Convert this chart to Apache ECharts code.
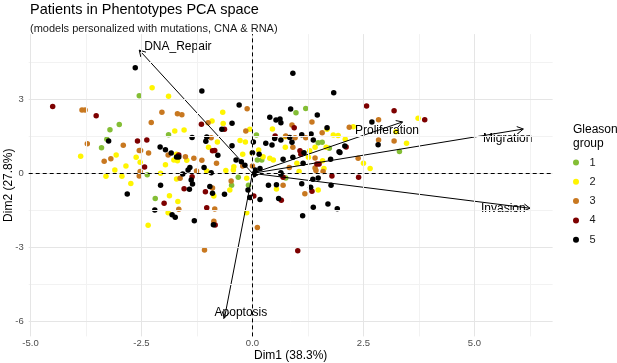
<!DOCTYPE html>
<html>
<head>
<meta charset="utf-8">
<script src="https://cdn.jsdelivr.net/npm/echarts@6/dist/echarts.min.js"></script>
<style>
  html, body { margin: 0; padding: 0; background: #fff; }
  #chart { width: 617px; height: 363px; }
</style>
</head>
<body>
<div id="chart"></div>
<script>
// individual coordinates [Dim1, Dim2] per Gleason group
const group1 = [[-2.55,3.15],[-3.00,1.98],[-3.21,1.77],[-1.89,1.57],[-3.28,1.39],[-3.40,1.04],[-2.37,-0.06],[-2.19,-1.02],[-0.32,-0.16],[-0.47,-0.48],[-0.09,-0.48],[0.75,-0.19],[0.98,2.46],[1.20,2.64],[3.31,0.89],[0.09,1.56],[1.48,1.24],[1.57,1.26],[1.73,1.02],[0.21,0.54],[0.11,0.54]]
const group2 = [[-2.26,3.48],[-1.89,3.13],[-0.67,2.48],[-0.91,2.13],[-0.66,2.03],[-0.06,1.79],[-1.75,1.72],[-1.54,1.76],[-0.79,1.27],[-0.99,1.06],[-0.28,1.33],[-0.16,1.27],[-0.22,0.78],[-3.87,0.69],[-3.07,0.74],[-2.85,0.30],[-2.62,0.65],[-2.53,0.45],[-1.96,0.35],[-3.10,0.13],[-1.71,0.78],[-1.77,0.54],[-1.69,0.51],[-1.48,0.53],[-1.03,0.09],[-0.60,0.11],[-0.43,0.13],[-3.30,-0.12],[-2.94,-0.12],[-2.07,0.00],[-2.74,-0.41],[-1.87,-0.91],[-1.68,-1.15],[-1.90,-1.60],[-2.35,-2.11],[-1.71,-0.23],[-0.87,-0.92],[-0.51,-0.68],[-0.13,-0.20],[-0.13,-1.60],[1.05,0.07],[0.54,-0.64],[1.48,-0.68],[3.73,2.24],[3.23,1.69],[3.47,1.22],[0.45,1.80],[1.68,1.79],[1.82,1.56],[1.93,1.54],[2.09,1.39],[1.41,1.06],[1.66,1.06],[0.74,1.06],[1.29,0.92],[1.26,0.65],[1.58,0.51],[2.50,0.41],[2.65,0.20],[1.61,0.20],[0.47,0.54],[0.39,0.61],[0.24,0.67],[0.14,0.95],[1.00,0.41],[-0.01,0.83],[-0.42,0.27],[0.74,1.49],[2.27,1.89]]
const group3 = [[-3.84,2.57],[-3.77,2.57],[-2.04,2.48],[-1.69,2.42],[-1.59,2.38],[-2.28,2.07],[-0.12,2.63],[-1.00,2.06],[-0.15,1.72],[-3.72,1.20],[-2.91,1.14],[-2.55,0.93],[-2.52,0.93],[-2.34,0.83],[-1.90,0.74],[-1.51,0.67],[-1.32,0.61],[-1.14,0.53],[-0.81,0.41],[-0.22,0.30],[-3.34,0.49],[-3.19,0.59],[-2.53,0.07],[-2.55,-0.11],[-1.26,0.09],[-1.63,-0.20],[-1.66,-1.46],[-0.90,-0.60],[-0.85,-1.45],[-0.87,-1.95],[-1.08,-3.12],[-0.48,-0.31],[0.69,-0.49],[1.43,0.11],[1.59,0.07],[1.18,-0.83],[0.11,-2.20],[2.38,0.61],[1.34,2.09],[2.84,2.18],[2.84,1.35],[3.19,1.31],[2.18,1.87],[0.89,1.96],[0.75,1.52],[0.96,1.45],[1.20,1.45],[1.57,1.65],[0.91,1.06],[1.41,0.62],[1.41,0.22],[0.83,0.24],[0.00,0.30],[-0.93,1.45]]
const group4 = [[-4.50,2.72],[-3.52,2.34],[-1.15,1.99],[-0.63,1.79],[-2.59,1.31],[-2.38,1.35],[-1.66,0.74],[-0.90,0.92],[-0.85,0.93],[-2.43,0.26],[-1.36,-0.14],[-1.54,-0.63],[-1.99,-1.22],[-1.06,-0.75],[-1.03,-1.40],[-0.84,-2.10],[0.03,-0.92],[0.69,-0.16],[1.79,-0.11],[2.39,-0.16],[1.34,-0.73],[0.65,-1.09],[1.02,-3.15],[2.57,2.74],[3.19,2.54],[3.88,2.18],[0.94,1.85],[1.07,0.92],[1.09,0.78],[2.11,1.07],[1.45,0.38],[1.50,0.38],[-0.04,-0.98],[0.51,1.52]]
const group5 = [[-2.64,4.29],[-1.14,3.35],[-0.30,2.78],[-0.46,2.04],[-0.69,1.79],[-1.36,1.46],[-1.03,1.48],[-1.05,1.30],[-3.24,1.31],[-2.08,1.07],[-1.96,0.96],[-1.83,0.83],[-1.71,0.66],[-1.66,0.66],[-0.78,0.73],[-0.46,1.12],[-0.37,0.54],[-0.25,0.47],[-0.17,0.33],[-1.45,0.13],[-1.41,0.24],[-1.09,0.24],[-2.82,-0.84],[-2.07,-0.48],[-2.20,-1.49],[-1.81,-1.68],[-1.74,-1.79],[-1.31,-1.93],[-1.57,-0.03],[-1.38,-0.27],[-1.35,-0.43],[-1.42,-0.65],[-0.93,0.02],[-0.96,-0.54],[-0.90,-0.81],[-0.63,-0.85],[-0.88,-2.09],[-0.10,-0.68],[-0.06,-0.98],[0.03,-0.06],[0.08,0.00],[0.64,-0.03],[1.36,-0.24],[1.48,-0.19],[0.36,-0.49],[0.54,-0.46],[1.11,-0.42],[1.31,-0.57],[1.77,-0.49],[0.17,-1.06],[0.59,-1.02],[1.70,-1.25],[1.37,-1.38],[1.91,-1.44],[1.13,-1.72],[0.91,4.07],[1.83,3.28],[0.86,2.61],[1.46,2.37],[0.39,2.28],[0.53,2.17],[0.62,2.21],[0.64,2.06],[2.69,2.09],[2.83,1.16],[0.50,1.42],[0.64,1.35],[0.30,1.22],[0.44,1.15],[0.02,1.27],[0.00,0.84],[0.84,1.46],[0.89,1.26],[1.11,1.57],[1.32,1.60],[1.37,1.35],[1.68,1.85],[1.95,0.88],[2.08,1.11],[1.16,0.84],[1.76,0.57],[1.14,0.41],[0.64,0.02],[0.15,0.78],[0.06,0.13],[0.17,0.20],[0.91,0.65],[0.69,0.57],[1.97,0.85]]

const groupNames = ['1', '2', '3', '4', '5']
const groupColors = ['#84BE35', '#FFF500', '#C87820', '#7D0000', '#000000']

// variable arrows (end points) and where their names sit
const varNames = ['DNA_Repair', 'Proliferation', 'Migration', 'Invasion', 'Apoptosis']
const varArrows = [[-2.55, 5.01], [3.38, 2.09], [6.10, 1.80], [6.25, -1.42], [-0.63, -5.88]]
const varLabels = [[-1.68, 5.16], [3.03, 1.72], [5.75, 1.42], [5.65, -1.45], [-0.26, -5.65]]

const xTicks = [-5, -2.5, 0, 2.5, 5]
const xMinor = [-3.75, -1.25, 1.25, 3.75, 6.25]
const yTicks = [-6, -3, 0, 3]
const yMinor = [-4.5, -1.5, 1.5, 4.5]

const font = 'Liberation Sans, Arial, sans-serif'

let myChart = echarts.init(document.getElementById('chart'))

// grid lines + dashed zero lines
const gridMark = []
xMinor.forEach(v => gridMark.push({ xAxis: v, lineStyle: { color: '#F2F2F2', width: 1, type: 'solid' } }))
yMinor.forEach(v => gridMark.push({ yAxis: v, lineStyle: { color: '#F2F2F2', width: 1, type: 'solid' } }))
xTicks.forEach(v => gridMark.push({ xAxis: v, lineStyle: { color: '#E5E5E5', width: 1, type: 'solid' } }))
yTicks.forEach(v => gridMark.push({ yAxis: v, lineStyle: { color: '#E5E5E5', width: 1, type: 'solid' } }))
const zeroMark = [
  { xAxis: 0, lineStyle: { color: '#000', width: 1, type: [4, 3] } },
  { yAxis: 0, lineStyle: { color: '#000', width: 1, type: [4, 3] } },
]

function renderArrow(params, api) {
  const s = api.coord([0, 0])
  const e = api.coord([api.value(0), api.value(1)])
  const ang = Math.atan2(e[1] - s[1], e[0] - s[0])
  const len = 7, spread = Math.PI / 6
  const h1 = [e[0] - len * Math.cos(ang - spread), e[1] - len * Math.sin(ang - spread)]
  const h2 = [e[0] - len * Math.cos(ang + spread), e[1] - len * Math.sin(ang + spread)]
  return {
    type: 'group',
    children: [
      { type: 'line', shape: { x1: s[0], y1: s[1], x2: e[0], y2: e[1] }, style: { stroke: '#000', lineWidth: 1 } },
      { type: 'polyline', shape: { points: [h1, e, h2] }, style: { stroke: '#000', fill: null, lineWidth: 1 } },
    ],
  }
}

function renderLabel(params, api) {
  const p = api.coord([api.value(0), api.value(1)])
  return {
    type: 'text', x: p[0], y: p[1],
    style: { text: varNames[params.dataIndex], fill: '#000', font: '12px ' + font, align: 'center', verticalAlign: 'middle' },
  }
}

const groups = [group1, group2, group3, group4, group5]

const option = {
  animation: false,
  textStyle: { fontFamily: font },
  title: [
    {
      text: 'Patients in Phentotypes PCA space',
      subtext: '(models personalized with mutations, CNA & RNA)',
      left: 30, top: 2, padding: 0, itemGap: 6,
      textStyle: { fontSize: 14.5, fontWeight: 'normal', color: '#000', fontFamily: font },
      subtextStyle: { fontSize: 11, color: '#1a1a1a', fontFamily: font },
    },
    {
      text: 'Gleason\ngroup',
      left: 573, top: 123, padding: 0,
      textStyle: { fontSize: 12, fontWeight: 'normal', color: '#000', lineHeight: 14, fontFamily: font },
    },
  ],
  legend: {
    orient: 'vertical',
    left: 573, top: 157, padding: 0,
    itemWidth: 17, itemHeight: 6, itemGap: 8.3,
    icon: 'circle',
    textStyle: { fontSize: 11, color: '#1a1a1a', fontFamily: font },
    data: groupNames,
  },
  grid: { left: 28.7, right: 64.4, top: 34.1, bottom: 26.6, outerBoundsMode: 'none', containLabel: false },
  xAxis: {
    type: 'value', min: -5.04, max: 6.76,
    name: 'Dim1 (38.3%)', nameLocation: 'middle', nameGap: 13, nameMoveOverlap: false,
    nameTextStyle: { fontSize: 12, color: '#000', fontFamily: font },
    axisLine: { show: false },
    splitLine: { show: false },
    axisTick: { show: true, length: 3, lineStyle: { color: '#333' }, customValues: xTicks },
    axisLabel: { customValues: xTicks, margin: 2, fontSize: 9.5, color: '#4d4d4d', formatter: v => v.toFixed(1) },
  },
  yAxis: {
    type: 'value', min: -6.63, max: 5.66,
    name: 'Dim2 (27.8%)', nameLocation: 'middle', nameGap: 14.5, nameMoveOverlap: false,
    nameTextStyle: { fontSize: 12, color: '#000', fontFamily: font },
    axisLine: { show: false },
    splitLine: { show: false },
    axisTick: { show: true, length: 3, lineStyle: { color: '#333' }, customValues: yTicks },
    axisLabel: { customValues: yTicks, margin: 5, fontSize: 9.5, color: '#4d4d4d' },
  },
  series: [
    {
      type: 'line', data: [], silent: true, z: 0,
      markLine: { silent: true, symbol: ['none', 'none'], label: { show: false }, data: gridMark, animation: false },
    },
    {
      type: 'line', data: [], silent: true, z: 1,
      markLine: { silent: true, symbol: ['none', 'none'], label: { show: false }, data: zeroMark, animation: false },
    },
    ...groups.map((g, i) => ({
      name: groupNames[i],
      type: 'scatter',
      data: g,
      symbolSize: 5.5,
      z: 2,
      itemStyle: { color: groupColors[i], opacity: 1 },
    })),
    { type: 'custom', data: varArrows, renderItem: renderArrow, z: 3, silent: true },
    { type: 'custom', data: varLabels, renderItem: renderLabel, z: 4, silent: true },
  ],
}

myChart.setOption(option, true)
</script>
</body>
</html>
